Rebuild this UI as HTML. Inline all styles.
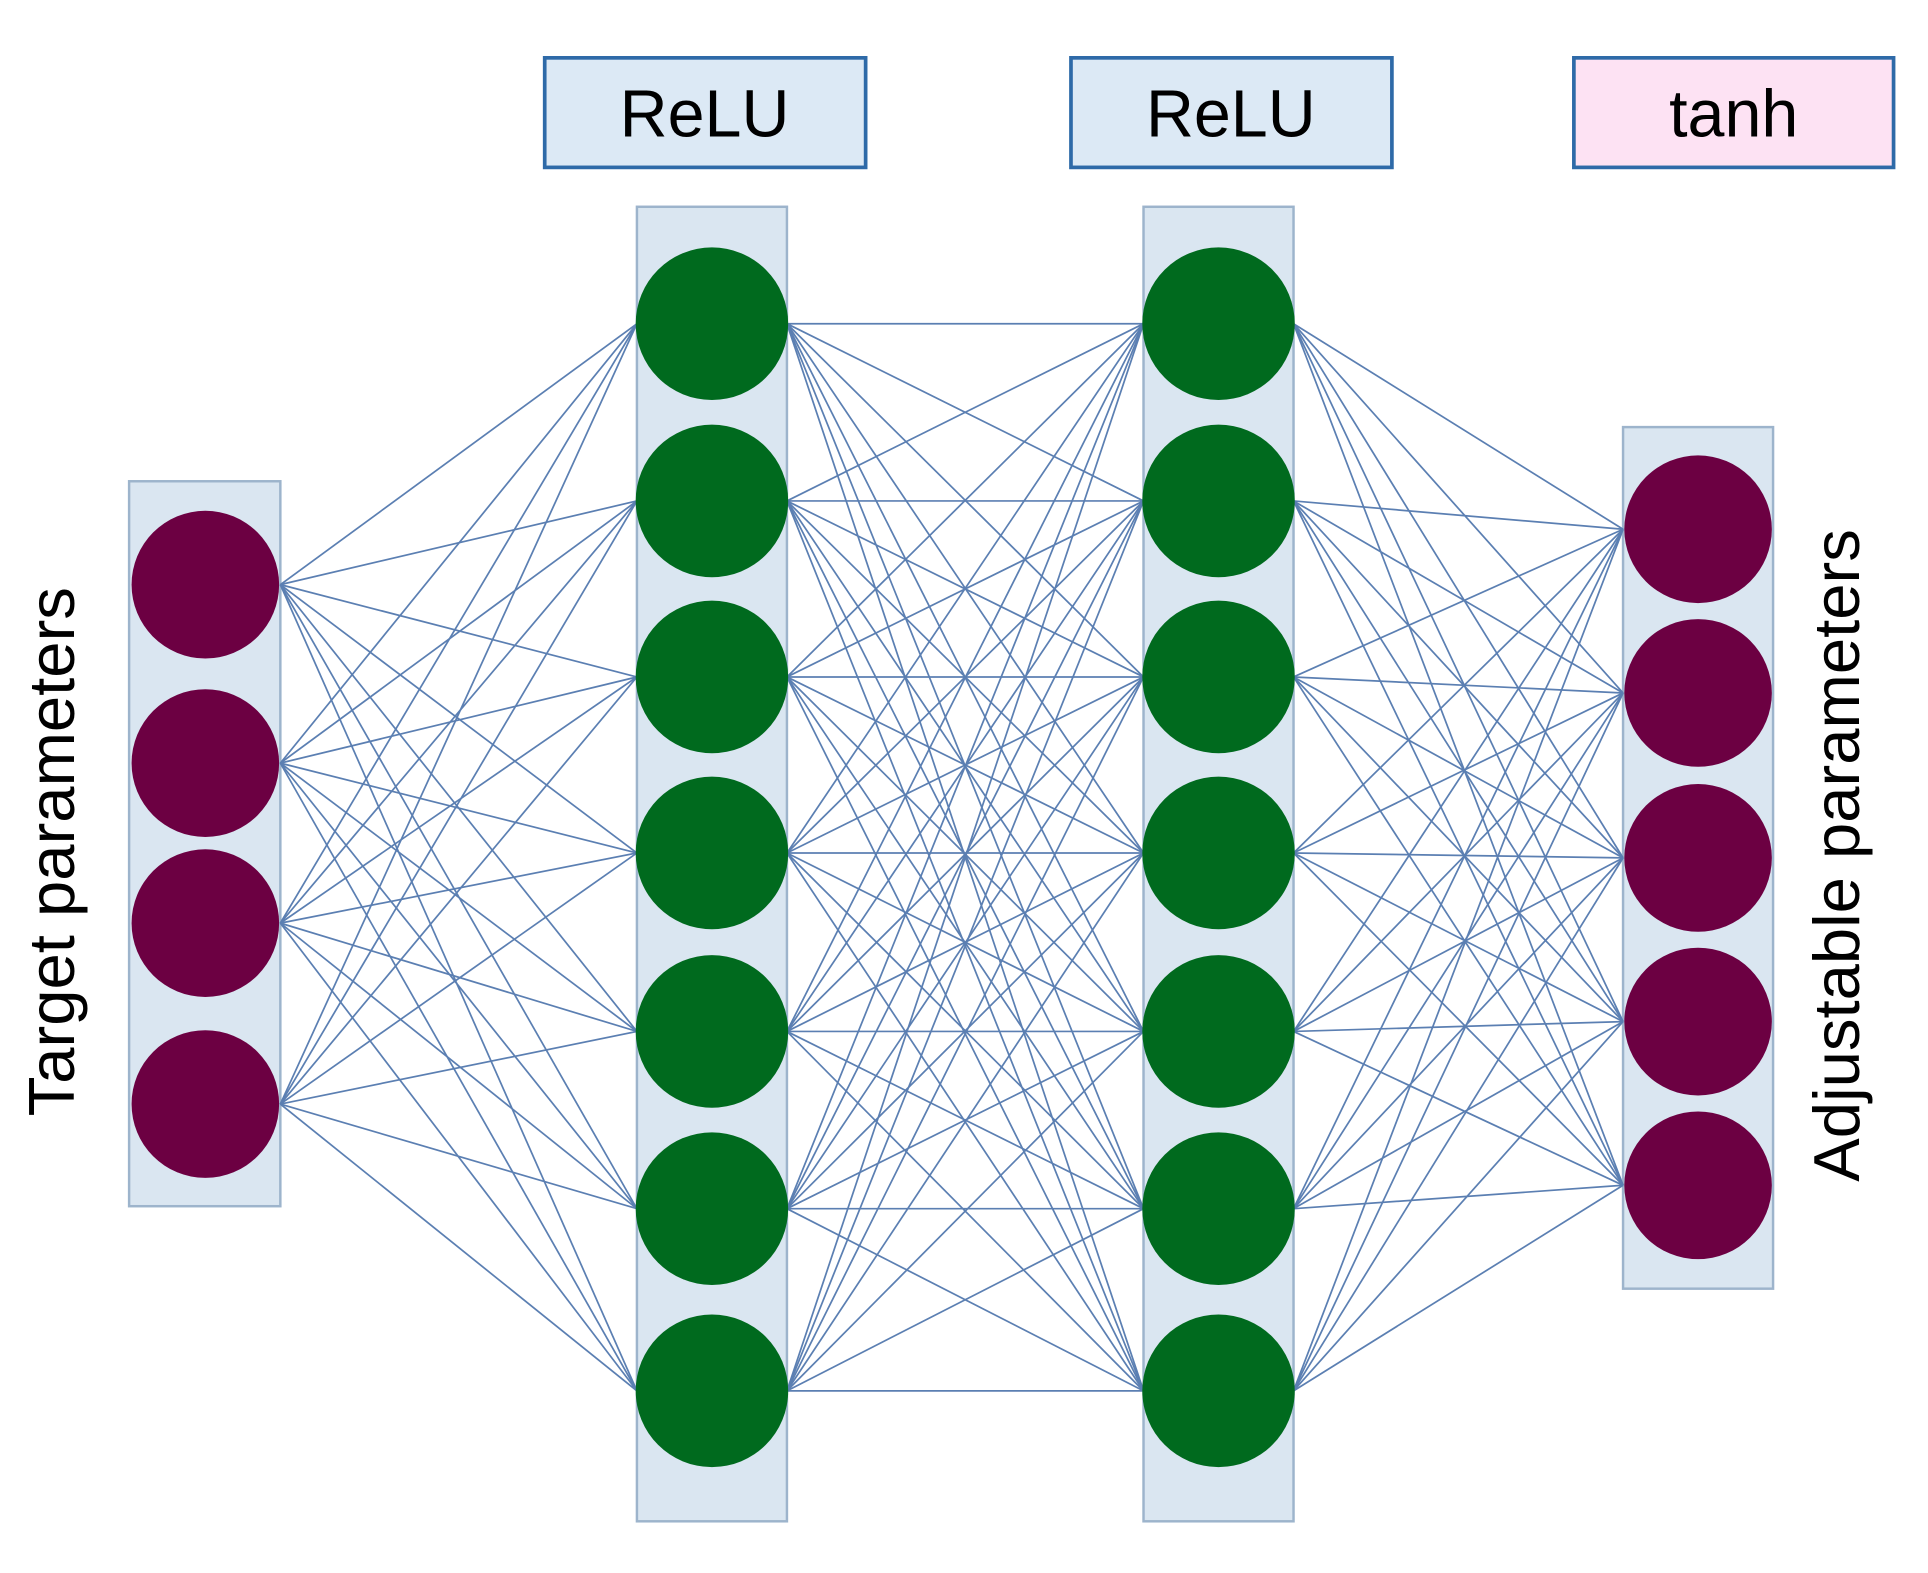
<!DOCTYPE html>
<html><head><meta charset="utf-8"><style>
html,body{margin:0;padding:0;background:#fff;}
svg{display:block;}
</style></head><body>
<svg width="1928" height="1573" viewBox="0 0 1568 1278" preserveAspectRatio="none" xmlns="http://www.w3.org/2000/svg">
<g font-family="Liberation Sans, sans-serif" font-size="54" text-anchor="middle">
<rect x="443" y="47" width="261" height="89" fill="#dce9f5" stroke="#2e6aa8" stroke-width="3"/>
<text x="573" y="111">ReLU</text>
<rect x="871" y="47" width="261" height="89" fill="#dce9f5" stroke="#2e6aa8" stroke-width="3"/>
<text x="1001" y="111">ReLU</text>
<rect x="1280" y="47" width="260" height="89" fill="#fde2f3" stroke="#2e6aa8" stroke-width="3"/>
<text x="1410" y="111">tanh</text>
<text transform="translate(60,692) rotate(-90)" font-size="53">Target parameters</text>
<text transform="translate(1512,695) rotate(-90)" font-size="53">Adjustable parameters</text>
</g>
<g fill="#dae6f1" stroke="#9db4cc" stroke-width="2">
<rect x="105" y="391" width="123" height="589"/>
<rect x="518" y="168" width="122" height="1068"/>
<rect x="930" y="168" width="122" height="1068"/>
<rect x="1320" y="347" width="122" height="700"/>
</g>
<g id="lines" stroke="#5b7fb2" stroke-width="1.4" fill="none"></g>
<g id="nodes"></g>
<script>
var c1=[475,620,750,897],c2=[263,407,550,693,838,982,1130],c4=[430,563,697,830,963];
var L=document.getElementById('lines'),N=document.getElementById('nodes'),ns='http://www.w3.org/2000/svg';
function ln(x1,y1,x2,y2){var e=document.createElementNS(ns,'line');e.setAttribute('x1',x1);e.setAttribute('y1',y1);e.setAttribute('x2',x2);e.setAttribute('y2',y2);L.appendChild(e);}
function nd(cx,cy,r,f){var e=document.createElementNS(ns,'ellipse');e.setAttribute('cx',cx);e.setAttribute('cy',cy);e.setAttribute('rx',r);e.setAttribute('ry',r);e.setAttribute('fill',f);N.appendChild(e);}
c1.forEach(function(a){c2.forEach(function(b){ln(228,a,518,b);});});
c2.forEach(function(a){c2.forEach(function(b){ln(640,a,930,b);});});
c2.forEach(function(a){c4.forEach(function(b){ln(1052,a,1320,b);});});
c1.forEach(function(y){nd(167,y,60,'#6c0042');});
c2.forEach(function(y){nd(579,y,62,'#006a1e');nd(991,y,62,'#006a1e');});
c4.forEach(function(y){nd(1381,y,60,'#6c0042');});
</script>
</svg>
</body></html>
